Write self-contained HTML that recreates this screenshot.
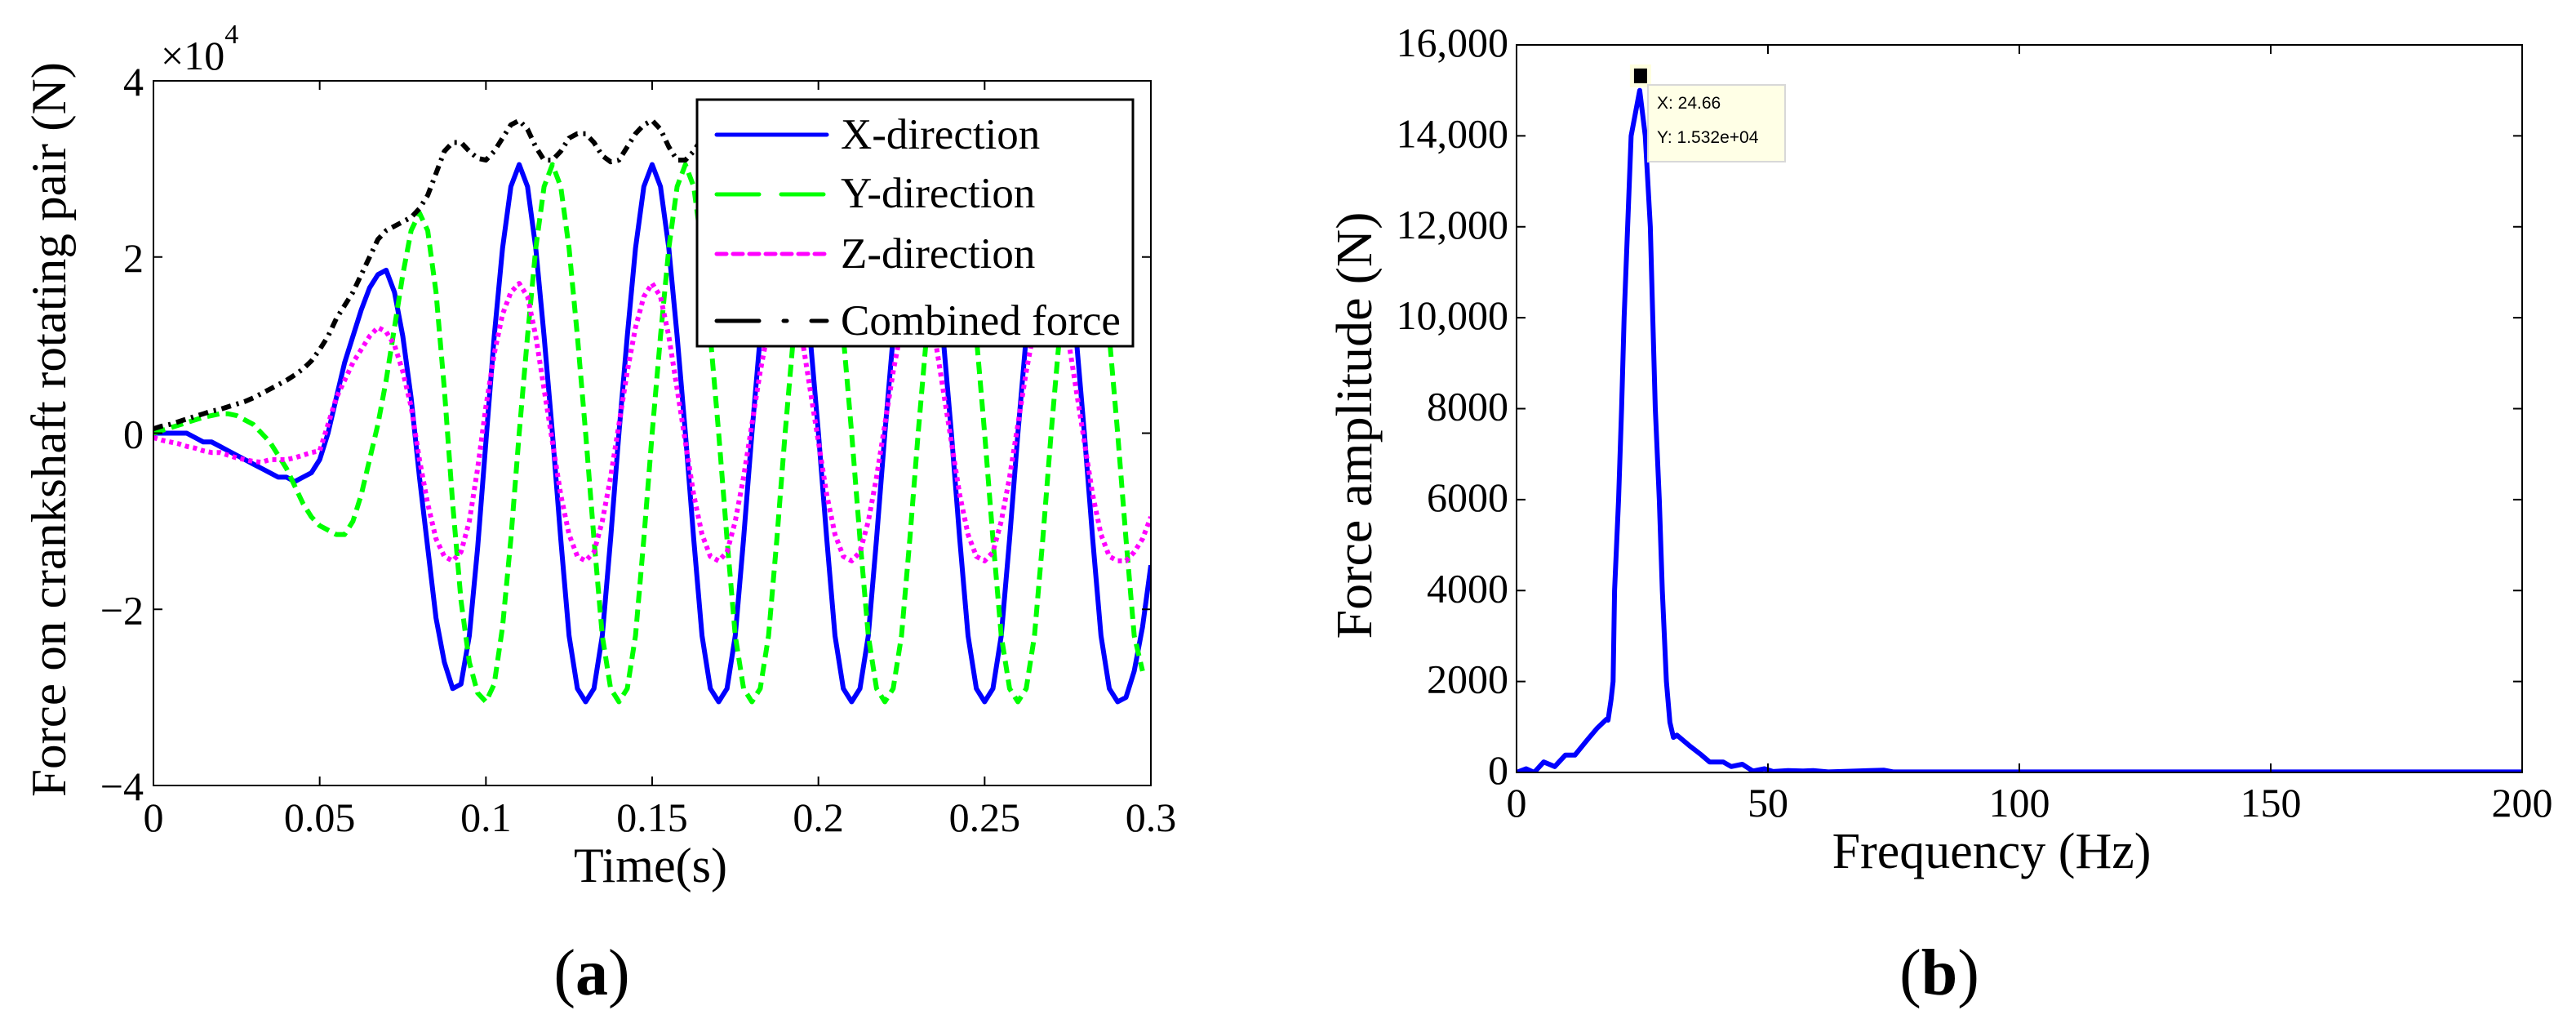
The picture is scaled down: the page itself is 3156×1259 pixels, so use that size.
<!DOCTYPE html>
<html><head><meta charset="utf-8">
<style>
html,body{margin:0;padding:0;background:#fff;}
svg{display:block;font-family:"Liberation Serif","Times New Roman",serif;}
</style></head>
<body>
<svg id="fig" width="3156" height="1259" viewBox="0 0 3156 1259" xmlns="http://www.w3.org/2000/svg">
<defs>
<clipPath id="clipA"><rect x="188" y="99" width="1222" height="863"/></clipPath>
<clipPath id="clipB"><rect x="1858" y="55" width="1232" height="891"/></clipPath>
</defs>
<g id="panelA"></g>
<g id="panelB"></g>
</svg>
<script>
// ---------- Panel (a) data (units of 1e4 N), sampled every 0.0025 s ----------
const timeStep = 0.0025;
const xDir = [0,0,0,0,0,-0.05,-0.1,-0.1,-0.15,-0.2,-0.25,-0.3,-0.35,-0.4,-0.45,-0.5,-0.5,-0.55,-0.5,-0.45,-0.3,0.0,0.4,0.8,1.1,1.4,1.65,1.8,1.85,1.6,1.1,0.4,-0.5,-1.3,-2.1,-2.6,-2.9,-2.85,-2.3,-1.3,-0.1,1.1,2.1,2.8,3.05,
 2.8,2.1,1.1,0.0,-1.2,-2.3,-2.9,-3.05,-2.9,-2.3,-1.2,0.0,1.1,2.1,2.8,3.05,
 2.8,2.1,1.1,0.0,-1.2,-2.3,-2.9,-3.05,-2.9,-2.3,-1.2,0.0,1.1,2.1,2.8,3.05,
 2.8,2.1,1.1,0.0,-1.2,-2.3,-2.9,-3.05,-2.9,-2.3,-1.2,0.0,1.1,2.1,2.8,3.05,
 2.8,2.1,1.1,0.0,-1.2,-2.3,-2.9,-3.05,-2.9,-2.3,-1.2,0.0,1.1,2.1,2.8,3.05,
 2.8,2.1,1.1,0.0,-1.2,-2.3,-2.9,-3.05,-3.0,-2.7,-2.2,-1.5];
const yDir = [0,0.03,0.06,0.09,0.12,0.15,0.18,0.2,0.22,0.22,0.2,0.15,0.1,0.0,-0.1,-0.25,-0.4,-0.6,-0.8,-0.95,-1.05,-1.1,-1.15,-1.15,-1.0,-0.7,-0.3,0.1,0.6,1.2,1.8,2.3,2.5,2.3,1.6,0.5,-0.8,-1.9,-2.6,-2.95,-3.05,-2.85,-2.2,-1.2,0.0,1.1,2.1,2.8,3.05,
 2.8,2.1,1.1,0.0,-1.2,-2.3,-2.9,-3.05,-2.9,-2.3,-1.2,0.0,1.1,2.1,2.8,3.05,
 2.8,2.1,1.1,0.0,-1.2,-2.3,-2.9,-3.05,-2.9,-2.3,-1.2,0.0,1.1,2.1,2.8,3.05,
 2.8,2.1,1.1,0.0,-1.2,-2.3,-2.9,-3.05,-2.9,-2.3,-1.2,0.0,1.1,2.1,2.8,3.05,
 2.8,2.1,1.1,0.0,-1.2,-2.3,-2.9,-3.05,-2.9,-2.3,-1.2,0.0,1.1,2.1,2.8,3.05,
 2.8,2.1,1.1,0.0,-1.2,-2.3,-2.7];
const zDir = [-0.05,-0.08,-0.1,-0.12,-0.15,-0.17,-0.2,-0.22,-0.22,-0.25,-0.28,-0.3,-0.32,-0.33,-0.3,-0.3,-0.3,-0.28,-0.25,-0.22,-0.2,0.1,0.4,0.6,0.8,0.95,1.1,1.2,1.15,1.0,0.7,0.3,-0.3,-0.8,-1.2,-1.4,-1.45,-1.35,-1.0,-0.4,0.3,0.9,1.35,1.6,1.7,
 1.55,1.1,0.5,-0.1,-0.7,-1.15,-1.4,-1.45,-1.35,-1.0,-0.5,0.1,0.7,1.2,1.55,1.7,
 1.55,1.1,0.5,-0.1,-0.7,-1.15,-1.4,-1.45,-1.35,-1.0,-0.5,0.1,0.7,1.2,1.55,1.7,
 1.55,1.1,0.5,-0.1,-0.7,-1.15,-1.4,-1.45,-1.35,-1.0,-0.5,0.1,0.7,1.2,1.55,1.7,
 1.55,1.1,0.5,-0.1,-0.7,-1.15,-1.4,-1.45,-1.35,-1.0,-0.5,0.1,0.7,1.2,1.55,1.7,
 1.55,1.1,0.5,-0.1,-0.7,-1.15,-1.4,-1.45,-1.45,-1.35,-1.2,-0.95];
const combined = [0.05,0.08,0.1,0.13,0.16,0.19,0.22,0.25,0.27,0.3,0.33,0.36,0.4,0.45,0.5,0.55,0.6,0.66,0.73,0.82,0.95,1.1,1.3,1.45,1.6,1.8,2.0,2.2,2.3,2.35,2.4,2.45,2.55,2.7,2.95,3.2,3.3,3.3,3.2,3.12,3.1,3.2,3.35,3.5,3.55,
 3.45,3.25,3.1,3.1,3.2,3.35,3.4,3.4,3.3,3.15,3.08,3.1,3.25,3.4,3.5,3.55,
 3.45,3.25,3.1,3.1,3.2,3.35,3.4,3.4,3.3,3.15,3.08,3.1,3.25,3.4,3.5,3.55,
 3.45,3.25,3.1,3.1,3.2,3.35,3.4,3.4,3.3,3.15,3.08,3.1,3.25,3.4,3.5,3.55,
 3.45,3.25,3.1,3.1,3.2,3.35,3.4,3.4,3.3,3.15,3.08,3.1,3.25,3.4,3.5,3.55,
 3.45,3.25,3.1,3.1,3.2,3.35,3.4,3.4,3.3,3.2];
const xTickValsA = [0,0.05,0.1,0.15,0.2,0.25,0.3];
const xTickLabelsA = ["0","0.05","0.1","0.15","0.2","0.25","0.3"];
const yTickValsA = [-4,-2,0,2,4];
const yTickLabelsA = ["\u22124","\u22122","0","2","4"];
const legendLabels = ["X-direction","Y-direction","Z-direction","Combined force"];

// ---------- Panel (b) data ----------
const freqHz = [0,1.9,3.5,5.4,7.6,9.7,11.6,14.1,16,17.9,18.2,18.8,19.2,19.5,20.3,20.9,21.4,22.1,22.8,24.5,25.6,26.6,27.1,27.6,28.4,29.0,29.8,30.5,31.2,31.9,34.6,36.8,38.4,41.1,42.7,44.9,47,49.3,51,54,57,59,62,73,75,120,200];
const ampN = [0,80,0,230,130,380,380,720,970,1170,1150,1600,2000,4000,6000,8000,10000,12000,14000,15000,14000,12000,10000,8000,6000,4000,2000,1100,770,820,570,380,230,230,130,180,30,80,20,40,30,40,10,50,10,10,10];
const xTickValsB = [0,50,100,150,200];
const yTickValsB = [0,2000,4000,6000,8000,10000,12000,14000,16000];
const yTickLabelsB = ["0","2000","4000","6000","8000","10,000","12,000","14,000","16,000"];
const peakX = 24.66, peakY = 15320;

const NS = "http://www.w3.org/2000/svg";
function mk(tag, attrs, parent){const e=document.createElementNS(NS,tag);for(const k in attrs)e.setAttribute(k,attrs[k]);parent.appendChild(e);return e;}

// ---------- Panel A ----------
(function(){
const g = document.getElementById('panelA');
const L=188,R=1410,T=99,B=962;
const sx = t => L + (t-0)/(0.3-0)*(R-L);
const sy = v => B - (v-(-4))/(8)*(B-T);
const series = [
 {d:xDir, color:'#0000ff', w:6, dash:'', name:'series-x-direction'},
 {d:yDir, color:'#00ff00', w:6, dash:'15 8', name:'series-y-direction'},
 {d:zDir, color:'#ff00ff', w:6, dash:'5 5', name:'series-z-direction'},
 {d:combined, color:'#000000', w:6, dash:'12 7 3 7', name:'series-combined-force'}
];
const plot = mk('g',{'clip-path':'url(#clipA)'},g);


series.forEach(s=>{
  let p='';
  s.d.forEach((v,i)=>{p+=(i?'L':'M')+sx(i*timeStep).toFixed(1)+' '+sy(v).toFixed(1);});
  const el=mk('path',{d:p,fill:'none',stroke:s.color,'stroke-width':s.w,'stroke-linejoin':'round'},plot);
  if(s.dash) el.setAttribute('stroke-dasharray',s.dash);
  
  
});
const ax = mk('rect',{x:L,y:T,width:R-L,height:B-T,fill:'none',stroke:'#000','stroke-width':2},g);


xTickValsA.forEach((v,i)=>{
  const x=sx(v);
  mk('line',{x1:x,y1:B,x2:x,y2:B-11,stroke:'#000','stroke-width':2},g);
  mk('line',{x1:x,y1:T,x2:x,y2:T+11,stroke:'#000','stroke-width':2},g);
  const t=mk('text',{x:x,y:1018,'font-size':50,'text-anchor':'middle'},g);
  t.textContent=xTickLabelsA[i];
  
  
});
yTickValsA.forEach((v,i)=>{
  const y=sy(v);
  mk('line',{x1:L,y1:y,x2:L+11,y2:y,stroke:'#000','stroke-width':2},g);
  mk('line',{x1:R,y1:y,x2:R-11,y2:y,stroke:'#000','stroke-width':2},g);
  const t=mk('text',{x:176,y:y+18,'font-size':50,'text-anchor':'end'},g);
  t.textContent=yTickLabelsA[i];
  
  
});
const ex=mk('text',{x:197,y:85,'font-size':50},g);
ex.innerHTML='\u00d710<tspan dy="-32" font-size="34">4</tspan>';


const yl=mk('text',{x:0,y:0,'font-size':60,'text-anchor':'middle',transform:'translate(80,526) rotate(-90)',textLength:900,lengthAdjust:'spacingAndGlyphs'},g);
yl.textContent='Force on crankshaft rotating pair (N)';


const xl=mk('text',{x:797,y:1080,'font-size':60,'text-anchor':'middle',textLength:188,lengthAdjust:'spacingAndGlyphs'},g);
xl.textContent='Time(s)';


const cap=mk('text',{x:725,y:1218,'font-size':80,'text-anchor':'middle'},g);
cap.innerHTML='(<tspan font-weight="bold">a</tspan>)';


// legend
const lg=mk('g',{},g);


mk('rect',{x:854,y:122,width:534,height:302,fill:'#fff',stroke:'#000','stroke-width':3},lg);
const rowsY=[165,238,311,393], baseY=[182,254,328,410];
const legDash=['','52 27','12 8','52 30 4 30'];
const legW=[5,5,5,5];
series.forEach((s,i)=>{
  const ln=mk('line',{x1:878,y1:rowsY[i],x2:1013,y2:rowsY[i],stroke:s.color,'stroke-width':legW[i]},lg);
  if(legDash[i]) ln.setAttribute('stroke-dasharray',legDash[i]);
  ln.setAttribute('stroke-linecap','round');
  
  
  const t=mk('text',{x:1030,y:baseY[i],'font-size':53},lg);
  t.textContent=legendLabels[i];
  
  
});
})();

// ---------- Panel B ----------
(function(){
const g=document.getElementById('panelB');
const L=1858,R=3090,T=55,B=946;
const sx=f=>L+(f-0)/(200-0)*(R-L);
const sy=v=>B-(v-0)/(16000)*(B-T);
const plot=mk('g',{'clip-path':'url(#clipB)'},g);


let p='';
freqHz.forEach((f,i)=>{p+=(i?'L':'M')+sx(f).toFixed(1)+' '+sy(ampN[i]).toFixed(1);});
const ln=mk('path',{d:p,fill:'none',stroke:'#0000ff','stroke-width':6,'stroke-linejoin':'round'},plot);


const ax=mk('rect',{x:L,y:T,width:R-L,height:B-T,fill:'none',stroke:'#000','stroke-width':2},g);


xTickValsB.forEach(v=>{
  const x=sx(v);
  mk('line',{x1:x,y1:B,x2:x,y2:B-11,stroke:'#000','stroke-width':2},g);
  mk('line',{x1:x,y1:T,x2:x,y2:T+11,stroke:'#000','stroke-width':2},g);
  const t=mk('text',{x:x,y:1000,'font-size':50,'text-anchor':'middle'},g);
  t.textContent=String(v);
  
  
});
yTickValsB.forEach((v,i)=>{
  const y=sy(v);
  mk('line',{x1:L,y1:y,x2:L+11,y2:y,stroke:'#000','stroke-width':2},g);
  mk('line',{x1:R,y1:y,x2:R-11,y2:y,stroke:'#000','stroke-width':2},g);
  const t=mk('text',{x:1848,y:y+14,'font-size':50,'text-anchor':'end'},g);
  t.textContent=yTickLabelsB[i];
  
  
});
const yl=mk('text',{x:0,y:0,'font-size':62,'text-anchor':'middle',transform:'translate(1680,521) rotate(-90)',textLength:523,lengthAdjust:'spacingAndGlyphs'},g);
yl.textContent='Force amplitude (N)';


const xl=mk('text',{x:2440,y:1063,'font-size':62,'text-anchor':'middle'},g);
xl.textContent='Frequency (Hz)';


const cap=mk('text',{x:2376,y:1218,'font-size':80,'text-anchor':'middle'},g);
cap.innerHTML='(<tspan font-weight="bold">b</tspan>)';


// data tip
const tip=mk('g',{},g);


const mx=sx(peakX), my=sy(peakY);
mk('rect',{x:mx-13,y:my-14,width:26,height:28,fill:'#ffffe0'},tip);
mk('rect',{x:mx-8,y:my-9,width:16,height:18,fill:'#000'},tip);
mk('rect',{x:2019,y:104,width:168,height:94,fill:'#ffffe6',stroke:'#d8d8d8','stroke-width':2},tip);
const t1=mk('text',{x:2030,y:133,'font-size':21,'font-family':'Liberation Sans, sans-serif'},tip);
t1.textContent='X: '+peakX.toFixed(2);
const t2=mk('text',{x:2030,y:175,'font-size':21,'font-family':'Liberation Sans, sans-serif'},tip);
t2.textContent='Y: '+(peakY/1e4).toFixed(3)+'e+04';
})();
</script>
</body></html>
